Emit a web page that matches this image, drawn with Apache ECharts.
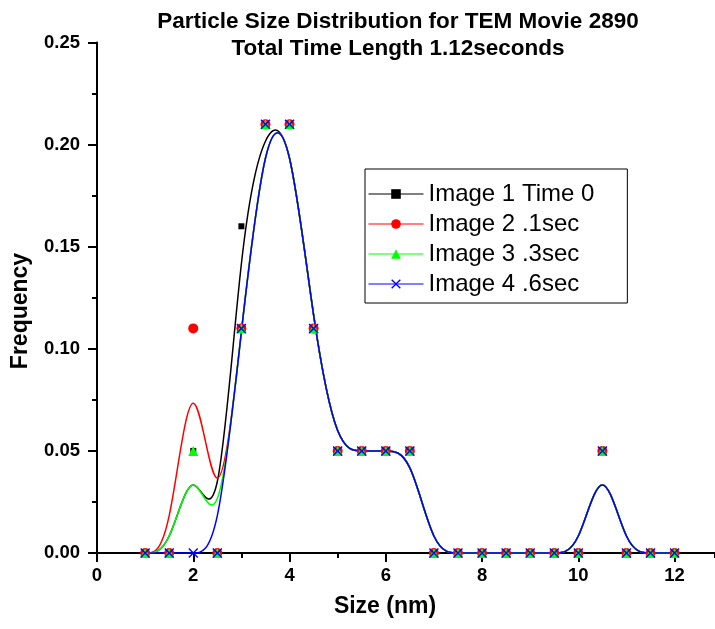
<!DOCTYPE html>
<html><head><meta charset="utf-8">
<script src="https://cdn.jsdelivr.net/npm/echarts@6/dist/echarts.min.js"></script>
<style>html,body{margin:0;padding:0;background:#fff}#c{width:715px;height:629px}</style>
</head><body><div id="c"></div>
<script>
// ---- data ----
const sizes  = [1,1.5,2,2.5,3,3.5,4,4.5,5,5.5,6,6.5,7,7.5,8,8.5,9,9.5,10,10.5,11,11.5,12];
const image1 = [0,0,0.05,0,0.16,0.21,0.21,0.11,0.05,0.05,0.05,0.05,0,0,0,0,0,0,0,0.05,0,0,0];
const image2 = [0,0,0.11,0,0.11,0.21,0.21,0.11,0.05,0.05,0.05,0.05,0,0,0,0,0,0,0,0.05,0,0,0];
const image3 = [0,0,0.05,0,0.11,0.21,0.21,0.11,0.05,0.05,0.05,0.05,0,0,0,0,0,0,0,0.05,0,0,0];
const image4 = [0,0,0,0,0.11,0.21,0.21,0.11,0.05,0.05,0.05,0.05,0,0,0,0,0,0,0,0.05,0,0,0];
const seriesNames = ['Image 1 Time 0','Image 2 .1sec','Image 3 .3sec','Image 4 .6sec'];
const titleLines = ['Particle Size Distribution for TEM Movie 2890','Total Time Length 1.12seconds'];
const xName = 'Size (nm)';
const yName = 'Frequency';

const FONT = '"Liberation Sans", Arial, sans-serif';
const colors = ['#000000','#ff0000','#00ff00','#0000ff'];
const symbols = ['rect','circle','triangle','path://M1,0L5,4L9,0L10,1L6,5L10,9L9,10L5,6L1,10L0,9L4,5L0,1Z'];
const symbolSizes = [6,10,[10,10],10];
const allVals = [image1,image2,image3,image4];
const X_MAX = 12.84;

// Origin "B-Spline" connection: data points act as control points of a uniform cubic B-spline,
// drawn as exact Bezier segments in pixel space via the axis scales.
function bspline(vals, color) {
  return function (params, api) {
    if (params.dataIndex !== 0) return null;
    const p = sizes.map((x, i) => api.coord([x, vals[i]]));
    const n = p.length;
    const P = [p[0], p[0]].concat(p, [p[n-1], p[n-1]]);
    let d = '';
    for (let i = 0; i + 3 < P.length; i++) {
      const a = P[i], b = P[i+1], c = P[i+2], e = P[i+3];
      const sx = (a[0]+4*b[0]+c[0])/6, sy = (a[1]+4*b[1]+c[1])/6;
      if (i === 0) d += 'M' + sx + ' ' + sy;
      d += ' C' + (2*b[0]+c[0])/3 + ' ' + (2*b[1]+c[1])/3 + ' ' +
           (b[0]+2*c[0])/3 + ' ' + (b[1]+2*c[1])/3 + ' ' +
           (b[0]+4*c[0]+e[0])/6 + ' ' + (b[1]+4*c[1]+e[1])/6;
    }
    return {type:'path', shape:{pathData:d}, style:{stroke:color, fill:'none', lineWidth:1.5}};
  };
}

const series = [];
allVals.forEach((vals, k) => {
  series.push({
    type:'custom', name:'curve' + k, z:2, silent:true, xAxisIndex:0,
    data: sizes.map((x, i) => [x, vals[i]]),
    encode:{x:0, y:1},
    renderItem: bspline(vals, colors[k])
  });
});
allVals.forEach((vals, k) => {
  series.push({
    type:'line', name:seriesNames[k], z:3, silent:true, xAxisIndex:0,
    data: sizes.map((x, i) => [x, vals[i]]),
    symbol:symbols[k], symbolSize:symbolSizes[k], showSymbol:true, showAllSymbol:true,
    itemStyle:{color:colors[k]},
    lineStyle:{color:colors[k], width:0, opacity:0}
  });
});

const lbl = {fontSize:18.5, fontWeight:'bold', color:'#000', fontFamily:FONT};

const chart = echarts.init(document.getElementById('c'), null, {renderer:'canvas'});
chart.setOption({
  animation:false,
  backgroundColor:'#fff',
  grid:{left:97, top:42.5, right:0, bottom:76, containLabel:false},
  xAxis:[
    {type:'value', min:0, max:X_MAX, interval:2, position:'bottom',
     axisLine:{show:true, onZero:false, lineStyle:{color:'#000', width:2}},
     axisTick:{show:true, length:9, lineStyle:{color:'#000', width:2}},
     splitLine:{show:false},
     axisLabel:Object.assign({margin:13, showMaxLabel:false}, lbl)},
    {type:'value', min:0, max:X_MAX, interval:1, position:'bottom',
     axisLine:{show:false}, axisLabel:{show:false}, splitLine:{show:false},
     axisTick:{show:true, length:5, lineStyle:{color:'#000', width:2}}}
  ],
  yAxis:{type:'value', min:0, max:0.25, interval:0.05,
    axisLine:{show:true, onZero:false, lineStyle:{color:'#000', width:2}},
    axisTick:{show:true, length:9, lineStyle:{color:'#000', width:2}},
    minorTick:{show:true, splitNumber:2, length:5, lineStyle:{color:'#000', width:2}},
    splitLine:{show:false}, minorSplitLine:{show:false},
    axisLabel:Object.assign({margin:17, formatter: v => v.toFixed(2)}, lbl)},
  legend:{
    orient:'vertical', left:365, top:169, padding:[13,33,7,3],
    itemWidth:55, itemHeight:12, itemGap:6,
    borderColor:'#000', borderWidth:1, backgroundColor:'#fff',
    textStyle:{fontFamily:FONT, fontSize:24, color:'#000', lineHeight:24},
    lineStyle:{width:1, opacity:1},
    data: seriesNames, selectedMode:false
  },
  graphic:[
    {type:'text', x:398, y:22, style:{text:titleLines[0], font:'bold 22.5px ' + FONT, fill:'#000', align:'center', verticalAlign:'middle'}},
    {type:'text', x:398, y:49, style:{text:titleLines[1], font:'bold 22.5px ' + FONT, fill:'#000', align:'center', verticalAlign:'middle'}},
    {type:'text', x:385, y:607, style:{text:xName, font:'bold 23px ' + FONT, fill:'#000', align:'center', verticalAlign:'middle'}},
    {type:'text', x:21, y:311, rotation:Math.PI/2, style:{text:yName, font:'bold 23px ' + FONT, fill:'#000', align:'center', verticalAlign:'middle'}}
  ],
  series: series
});
</script></body></html>
